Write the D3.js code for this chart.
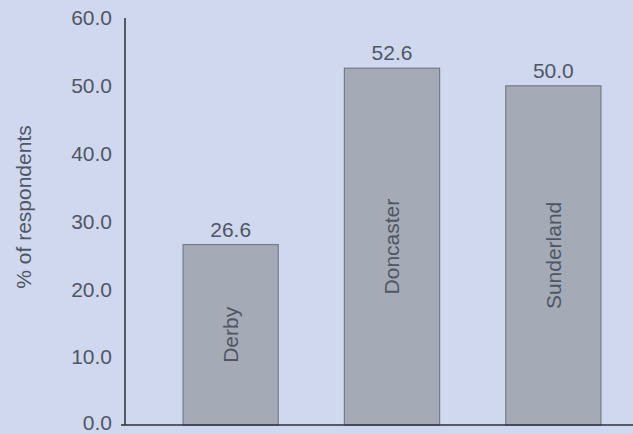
<!DOCTYPE html>
<html>
<head>
<meta charset="utf-8">
<script src="https://cdn.jsdelivr.net/npm/d3@7"></script>
<style>
	body { margin: 0; background: #cfd8ee; }
	svg { display: block; font-family: "Liberation Sans", Arial, Helvetica, sans-serif; }
</style>
</head>
<body>
<div id="chart-area"></div>
<script>
// data
var towns = ['Derby', 'Doncaster', 'Sunderland'];
var percents = [26.6, 52.6, 50.0];
var yTicks = [0, 10, 20, 30, 40, 50, 60];

var width = 633;
var height = 434;
var textColor = '#4f5664';

var svg = d3.select('#chart-area')
	.append('svg')
	.attr('width', width)
	.attr('height', height);

svg.append('rect')
	.attr('width', width)
	.attr('height', height)
	.attr('fill', '#cfd8ee');

var data = towns.map((t, i) => ({ town: t, value: percents[i] }));

var x = d3.scaleBand()
	.domain(towns)
	.range([125, 659])
	.paddingInner(0.41)
	.paddingOuter(0.36);

var y = d3.scaleLinear()
	.domain([0, 60])
	.range([425, 18]);

// bars
svg.append('g')
	.selectAll('rect')
	.data(data)
	.enter()
		.append('rect')
		.attr('x', d => x(d.town))
		.attr('y', d => y(d.value))
		.attr('width', x.bandwidth())
		.attr('height', d => y(0) - y(d.value))
		.attr('fill', '#a4aab6')
		.attr('stroke', '#767c88')
		.attr('stroke-width', 1.2);

// value labels
svg.append('g')
	.selectAll('text')
	.data(data)
	.enter()
		.append('text')
		.attr('x', d => x(d.town) + x.bandwidth() / 2)
		.attr('y', d => y(d.value) - 8)
		.attr('text-anchor', 'middle')
		.attr('font-size', 21)
		.attr('fill', textColor)
		.text(d => d3.format('.1f')(d.value));

// names inside the bars
svg.append('g')
	.selectAll('text')
	.data(data)
	.enter()
		.append('text')
		.attr('transform', d => 'translate(' + (x(d.town) + x.bandwidth() / 2) + ',' + y(d.value / 2) + ') rotate(-90)')
		.attr('dy', '0.35em')
		.attr('text-anchor', 'middle')
		.attr('font-size', 21)
		.attr('fill', textColor)
		.text(d => d.town);

// y axis
var yAxis = d3.axisLeft(y)
	.tickValues(yTicks)
	.tickSize(0)
	.tickPadding(13)
	.tickFormat(d3.format('.1f'));

var yg = svg.append('g')
	.attr('transform', 'translate(125,0)')
	.call(yAxis);
yg.select('.domain').remove();
yg.selectAll('text')
	.attr('font-size', 21)
	.attr('font-family', null)
	.attr('fill', textColor)
	.attr('dy', d => d === 0 ? '0.2em' : '0.32em');

svg.append('line')
	.attr('x1', 125).attr('x2', 125)
	.attr('y1', y(60)).attr('y2', y(0))
	.attr('stroke', '#2b303b')
	.attr('stroke-width', 1.5);

// baseline
svg.append('line')
	.attr('x1', 121).attr('x2', width)
	.attr('y1', y(0)).attr('y2', y(0))
	.attr('stroke', '#2b303b')
	.attr('stroke-width', 1.5);

// axis title
svg.append('text')
	.attr('transform', 'translate(24,207) rotate(-90)')
	.attr('dy', '0.35em')
	.attr('text-anchor', 'middle')
	.attr('font-size', 21)
	.attr('fill', textColor)
	.text('% of respondents');
</script>
</body>
</html>
